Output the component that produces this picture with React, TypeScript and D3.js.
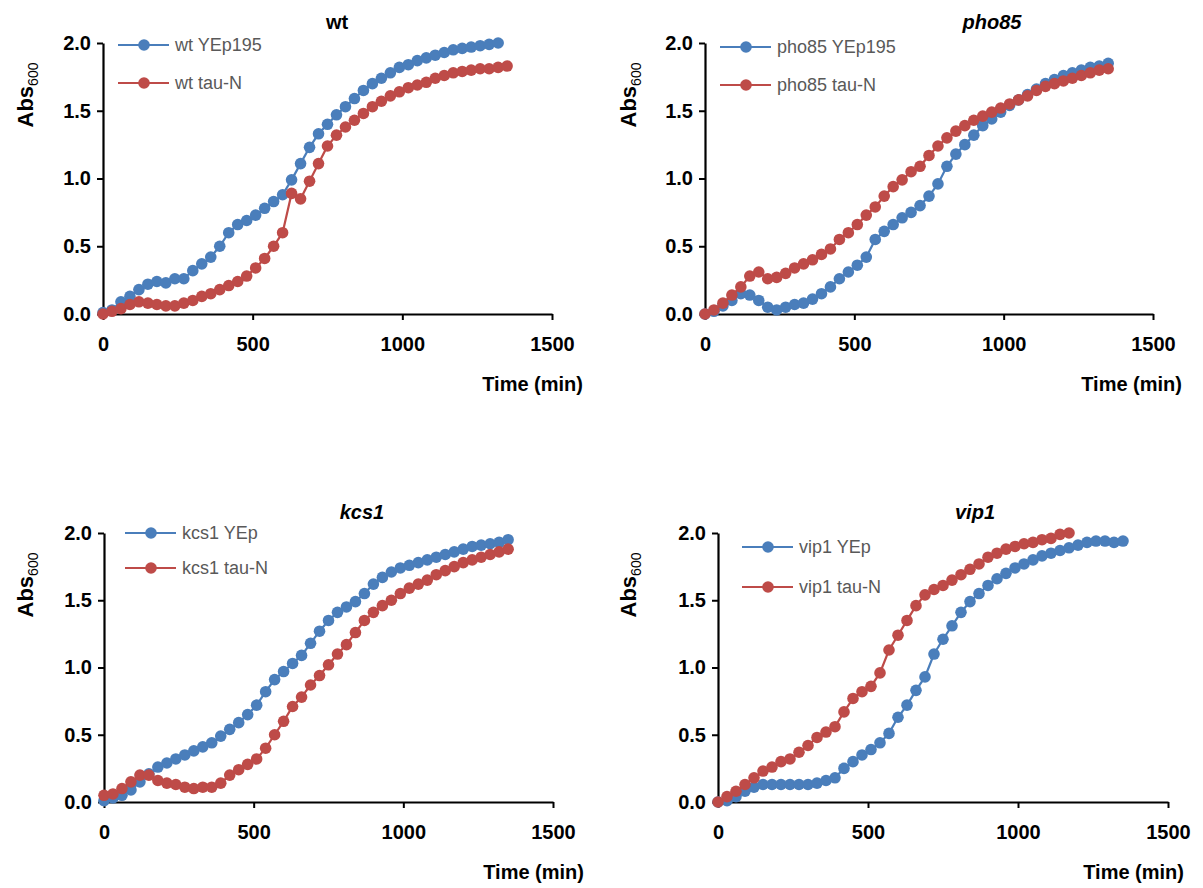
import React, { useEffect, useRef } from 'react';
import * as d3 from 'd3';

// sampling times (min), one reading every 30 min
const times = [
  0, 30, 60, 90, 120, 150, 180, 210, 240, 270, 300, 330, 360, 390, 420, 450,
  480, 510, 540, 570, 600, 630, 660, 690, 720, 750, 780, 810, 840, 870, 900,
  930, 960, 990, 1020, 1050, 1080, 1110, 1140, 1170, 1200, 1230, 1260, 1290,
  1320, 1350,
];

// Abs600 readings
const wtYEp195 = [
  0.01, 0.03, 0.09, 0.13, 0.18, 0.22, 0.24, 0.23, 0.26, 0.26, 0.32, 0.37, 0.42,
  0.5, 0.6, 0.66, 0.69, 0.73, 0.78, 0.83, 0.88, 0.99, 1.11, 1.23, 1.33, 1.4,
  1.47, 1.53, 1.59, 1.65, 1.7, 1.74, 1.78, 1.82, 1.84, 1.87, 1.89, 1.91, 1.93,
  1.95, 1.96, 1.97, 1.98, 1.99, 2.0,
];
const wtTauN = [
  0.0, 0.02, 0.04, 0.07, 0.09, 0.08, 0.07, 0.06, 0.06, 0.08, 0.1, 0.13, 0.15,
  0.18, 0.21, 0.24, 0.28, 0.34, 0.41, 0.5, 0.6, 0.89, 0.85, 0.98, 1.11, 1.24,
  1.32, 1.38, 1.43, 1.48, 1.53, 1.57, 1.61, 1.64, 1.67, 1.69, 1.71, 1.74, 1.76,
  1.78, 1.79, 1.8, 1.81, 1.81, 1.82, 1.83,
];
const pho85YEp195 = [
  0.0, 0.02, 0.06, 0.1, 0.15, 0.14, 0.1, 0.05, 0.03, 0.05, 0.07, 0.08, 0.11,
  0.15, 0.2, 0.26, 0.31, 0.36, 0.42, 0.55, 0.61, 0.66, 0.71, 0.75, 0.8, 0.87,
  0.96, 1.09, 1.18, 1.25, 1.32, 1.39, 1.44, 1.49, 1.54, 1.58, 1.62, 1.66, 1.7,
  1.73, 1.76, 1.78, 1.8, 1.82, 1.83, 1.85,
];
const pho85TauN = [
  0.0, 0.03, 0.08, 0.14, 0.2, 0.28, 0.31, 0.26, 0.27, 0.3, 0.34, 0.37, 0.4,
  0.44, 0.48, 0.55, 0.6, 0.66, 0.73, 0.79, 0.87, 0.94, 0.99, 1.05, 1.09, 1.17,
  1.24, 1.3, 1.35, 1.39, 1.43, 1.46, 1.49, 1.52, 1.55, 1.58, 1.61, 1.65, 1.68,
  1.7, 1.72, 1.74, 1.76, 1.78, 1.8, 1.81,
];
const kcs1YEp = [
  0.01, 0.03, 0.05, 0.09, 0.15, 0.21, 0.26, 0.29, 0.32, 0.35, 0.38, 0.41, 0.44,
  0.49, 0.54, 0.59, 0.65, 0.72, 0.82, 0.91, 0.97, 1.03, 1.09, 1.18, 1.27, 1.35,
  1.41, 1.45, 1.49, 1.55, 1.62, 1.67, 1.71, 1.74, 1.76, 1.78, 1.8, 1.82, 1.84,
  1.86, 1.88, 1.9, 1.91, 1.92, 1.93, 1.95,
];
const kcs1TauN = [
  0.05, 0.06, 0.1, 0.15, 0.2, 0.2, 0.16, 0.14, 0.13, 0.11, 0.1, 0.11, 0.11,
  0.14, 0.2, 0.24, 0.28, 0.32, 0.4, 0.5, 0.6, 0.71, 0.78, 0.87, 0.94, 1.02, 1.1,
  1.17, 1.26, 1.35, 1.41, 1.46, 1.5, 1.55, 1.59, 1.62, 1.65, 1.69, 1.72, 1.75,
  1.78, 1.8, 1.82, 1.84, 1.86, 1.88,
];
const vip1YEp = [
  0.0, 0.01, 0.04, 0.08, 0.11, 0.13, 0.13, 0.13, 0.13, 0.13, 0.13, 0.14, 0.16,
  0.18, 0.25, 0.3, 0.35, 0.39, 0.44, 0.51, 0.63, 0.72, 0.83, 0.93, 1.1, 1.21,
  1.31, 1.41, 1.49, 1.55, 1.61, 1.66, 1.7, 1.74, 1.77, 1.8, 1.83, 1.85, 1.87,
  1.89, 1.91, 1.93, 1.94, 1.94, 1.93, 1.94,
];
const vip1TauN = [
  0.0, 0.04, 0.08, 0.13, 0.18, 0.23, 0.26, 0.3, 0.32, 0.37, 0.42, 0.48, 0.52,
  0.56, 0.67, 0.77, 0.82, 0.86, 0.96, 1.13, 1.24, 1.35, 1.46, 1.54, 1.58, 1.61,
  1.65, 1.69, 1.73, 1.77, 1.82, 1.85, 1.88, 1.9, 1.92, 1.93, 1.95, 1.96, 1.99,
  2.0,
];

const xTicks = [0, 500, 1000, 1500];
const yTicks = [0, 0.5, 1, 1.5, 2];

const BLUE = '#4a7ebb';
const RED = '#be4b48';
const FONT = '"Liberation Sans", Arial, sans-serif';

// panel layout (pixels)
const panels = [
  {
    title: 'wt', italic: false, x0: 103, x1: 552, yTop: 43, yBot: 314, titleX: 337,
    legX: 15, legY: 2, legGap: 38, yLabOff: 70, timeOff: 31,
    series: [
      { name: 'wt YEp195', values: wtYEp195, color: BLUE },
      { name: 'wt tau-N', values: wtTauN, color: RED },
    ],
  },
  {
    title: 'pho85', italic: true, x0: 705, x1: 1153, yTop: 43, yBot: 314, titleX: 992,
    legX: 15, legY: 4, legGap: 38, yLabOff: 69, timeOff: 29,
    series: [
      { name: 'pho85 YEp195', values: pho85YEp195, color: BLUE },
      { name: 'pho85 tau-N', values: pho85TauN, color: RED },
    ],
  },
  {
    title: 'kcs1', italic: true, x0: 104, x1: 553, yTop: 533, yBot: 802, titleX: 362,
    legX: 21, legY: 0, legGap: 35, yLabOff: 71, timeOff: 31,
    series: [
      { name: 'kcs1 YEp', values: kcs1YEp, color: BLUE },
      { name: 'kcs1 tau-N', values: kcs1TauN, color: RED },
    ],
  },
  {
    title: 'vip1', italic: true, x0: 718, x1: 1168, yTop: 533, yBot: 802, titleX: 975,
    legX: 24, legY: 14, legGap: 40, yLabOff: 82, timeOff: 16,
    series: [
      { name: 'vip1 YEp', values: vip1YEp, color: BLUE },
      { name: 'vip1 tau-N', values: vip1TauN, color: RED },
    ],
  },
];

const App = () => {
  const svgRef = useRef<SVGSVGElement>(null);

  useEffect(() => {
    const svg = d3.select(svgRef.current);
    svg.selectAll('*').remove();

    panels.forEach(p => {
      const g = svg.append('g');
      const x = d3.scaleLinear().domain([0, 1500]).range([p.x0, p.x1]);
      const y = d3.scaleLinear().domain([0, 2]).range([p.yBot, p.yTop]);

      // Axes
      const yAxis = g.append('g')
        .attr('transform', `translate(${p.x0},0)`)
        .call(d3.axisLeft(y).tickValues(yTicks).tickSize(6).tickSizeOuter(0).tickPadding(6).tickFormat(d3.format('.1f')));
      const xAxis = g.append('g')
        .attr('transform', `translate(0,${p.yBot})`)
        .call(d3.axisBottom(x).tickValues(xTicks).tickSize(6).tickSizeOuter(0).tickPadding(17).tickFormat(d3.format('d')));

      [yAxis, xAxis].forEach(a => {
        a.selectAll('.domain').attr('stroke', '#000').attr('stroke-width', 2.2);
        a.selectAll('.tick line').attr('stroke', '#000').attr('stroke-width', 2);
        a.selectAll('.tick text')
          .attr('fill', '#000')
          .style('font-family', FONT)
          .style('font-size', '20px')
          .style('font-weight', 'bold');
      });

      // Title
      g.append('text')
        .attr('x', p.titleX)
        .attr('y', p.yTop - 14)
        .attr('text-anchor', 'middle')
        .style('font-family', FONT)
        .style('font-size', '20px')
        .style('font-weight', 'bold')
        .style('font-style', p.italic ? 'italic' : 'normal')
        .text(p.title);

      // Y label with subscript
      const yl = g.append('text')
        .attr('transform', `translate(${p.x0 - p.yLabOff},${p.yTop + 52}) rotate(-90)`)
        .attr('text-anchor', 'middle')
        .style('font-family', FONT)
        .style('font-size', '22px')
        .style('font-weight', 'bold');
      yl.append('tspan').text('Abs');
      yl.append('tspan')
        .attr('dy', 5)
        .style('font-size', '14px')
        .style('font-weight', 'normal')
        .text('600');

      // X label
      g.append('text')
        .attr('x', p.x1 + p.timeOff)
        .attr('y', p.yBot + 77)
        .attr('text-anchor', 'end')
        .style('font-family', FONT)
        .style('font-size', '20px')
        .style('font-weight', 'bold')
        .text('Time (min)');

      // Series
      const line = d3.line<number>()
        .x((d, i) => x(times[i]))
        .y(d => y(d));

      p.series.forEach((s, si) => {
        g.append('path')
          .datum(s.values)
          .attr('fill', 'none')
          .attr('stroke', s.color)
          .attr('stroke-width', 2.2)
          .attr('d', line);

        g.append('g')
          .selectAll('circle')
          .data(s.values)
          .enter()
          .append('circle')
          .attr('cx', (d, i) => x(times[i]))
          .attr('cy', d => y(d))
          .attr('r', 5.8)
          .attr('fill', s.color);

        // Legend entry
        const ly = p.yTop + p.legY + si * p.legGap;
        const lx = p.x0 + p.legX;
        g.append('line')
          .attr('x1', lx).attr('x2', lx + 51)
          .attr('y1', ly).attr('y2', ly)
          .attr('stroke', s.color)
          .attr('stroke-width', 2.2);
        g.append('circle')
          .attr('cx', lx + 26).attr('cy', ly)
          .attr('r', 5.8)
          .attr('fill', s.color);
        g.append('text')
          .attr('x', lx + 57)
          .attr('y', ly + 6)
          .style('font-family', FONT)
          .style('font-size', '18px')
          .attr('fill', '#595959')
          .text(s.name);
      });
    });
  }, []);

  return (
    <div style={{ position: 'absolute', left: 0, top: 0 }}>
      <svg ref={svgRef} width={1203} height={888} style={{ display: 'block', background: '#fff' }} />
    </div>
  );
};

export default App;
